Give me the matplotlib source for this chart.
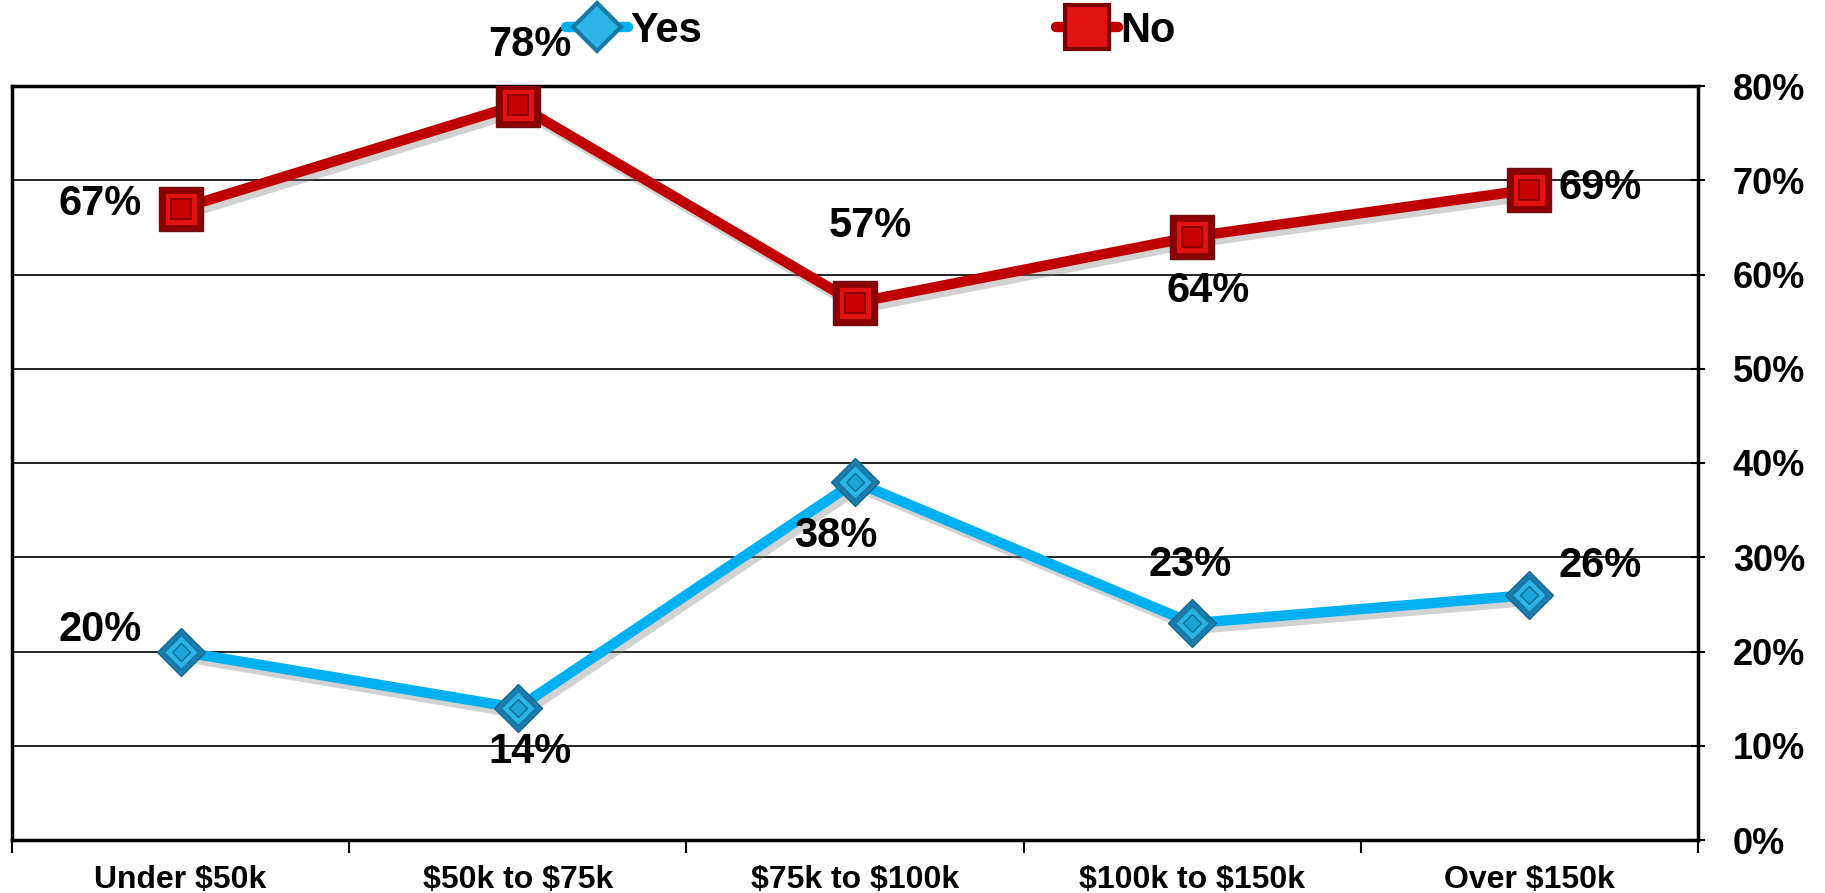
import matplotlib
matplotlib.use("Agg")
import matplotlib.pyplot as plt
import matplotlib.patheffects as pe
from matplotlib.lines import Line2D

categories = ["Under \\$50k", "\\$50k to \\$75k", "\\$75k to \\$100k", "\\$100k to \\$150k", "Over \\$150k"]
yes_vals = [20, 14, 38, 23, 26]
no_vals = [67, 78, 57, 64, 69]
yticks = [0, 10, 20, 30, 40, 50, 60, 70, 80]

plt.rcParams['font.family'] = ['Liberation Sans', 'DejaVu Sans']
plt.rcParams['font.weight'] = 'bold'

W, H = 1825, 893
fig = plt.figure(figsize=(W / 100, H / 100), dpi=100)
ax = fig.add_axes([12 / W, 1 - 840 / H, (1698 - 12) / W, (840 - 86) / H])

x = list(range(len(categories)))
blue = '#00B0F0'
red = '#C00000'

shadow = [pe.SimpleLineShadow(offset=(3, -4), shadow_color='gray', alpha=0.35), pe.Normal()]

ax.plot(x, yes_vals, color=blue, lw=7.5, zorder=3, path_effects=shadow, solid_capstyle='round')
ax.plot(x, no_vals, color=red, lw=7.5, zorder=3, path_effects=shadow, solid_capstyle='round')

# bevelled markers
ax.plot(x, yes_vals, ls='none', marker='D', ms=24, mfc='#1C7FB0', mec='#15668E', mew=1, zorder=4)
ax.plot(x, yes_vals, ls='none', marker='D', ms=18, mfc='#2BB5E6', mec='#1878A6', mew=2, zorder=5)
ax.plot(x, yes_vals, ls='none', marker='D', ms=9, mfc='#1EA5D8', mec='#0E6E96', mew=1, zorder=6)

ax.plot(x, no_vals, ls='none', marker='s', ms=32, mfc='#8E0000', mec='#6A1010', mew=1, zorder=4)
ax.plot(x, no_vals, ls='none', marker='s', ms=25, mfc='#E31212', mec='#8A0000', mew=2, zorder=5)
ax.plot(x, no_vals, ls='none', marker='s', ms=15, mfc='#C80000', mec='#900000', mew=1.5, zorder=6)

fs_lab = 30
yes_lab_pos = [(-0.24, 22.3), (1.036, 9.3), (1.944, 32.3), (2.994, 29.2), (4.21, 29.1)]
no_lab_pos = [(-0.24, 67.5), (1.036, 84.4), (2.045, 65.1), (3.046, 58.3), (4.21, 69.2)]
for i in range(len(categories)):
    px, py = yes_lab_pos[i]
    ax.text(px, py, f"{yes_vals[i]}%", ha='center', va='center', fontsize=fs_lab,
            fontweight='bold', zorder=7, clip_on=False)
    px, py = no_lab_pos[i]
    ax.text(px, py, f"{no_vals[i]}%", ha='center', va='center', fontsize=fs_lab,
            fontweight='bold', zorder=7, clip_on=False)

ax.set_xlim(-0.5, len(categories) - 0.5)
ax.set_ylim(0, 80)
ax.set_yticks(yticks)
ax.set_yticklabels([f"{v}%" for v in yticks], fontsize=26, fontweight='bold')
ax.yaxis.tick_right()
ax.tick_params(axis='y', length=10, width=1.5, pad=20, left=False, right=True, direction='inout')
ax.grid(axis='y', color='black', lw=1.2, zorder=0)
ax.set_axisbelow(True)

ax.set_xticks(x)
ax.set_xticklabels(categories, fontsize=23, fontweight='bold')
ax.tick_params(axis='x', length=0, pad=18)
ax.set_xticks([i - 0.5 for i in range(len(categories) + 1)], minor=True)
ax.tick_params(axis='x', which='minor', length=9, width=1.5, direction='out')

for s in ax.spines.values():
    s.set_linewidth(2.5)
    s.set_color('black')

h_yes = Line2D([], [], color=blue, lw=7.5, solid_capstyle='round', marker='D', ms=24,
               mfc='#2BB5E6', mec='#1878A6', mew=3)
h_no = Line2D([], [], color=red, lw=7.5, solid_capstyle='round', marker='s', ms=32,
              mfc='#E31212', mec='#7A0000', mew=3)
for handle, label, lx in [(h_yes, "Yes", 566), (h_no, "No", 1056)]:
    fig.legend([handle], [label], loc='center left', bbox_to_anchor=(lx / W, 1 - 31 / H),
               frameon=False, handlelength=1.49, handletextpad=0.05, borderpad=0,
               borderaxespad=0, prop={'weight': 'bold', 'size': 30})

fig.savefig("out.png", dpi=100)
